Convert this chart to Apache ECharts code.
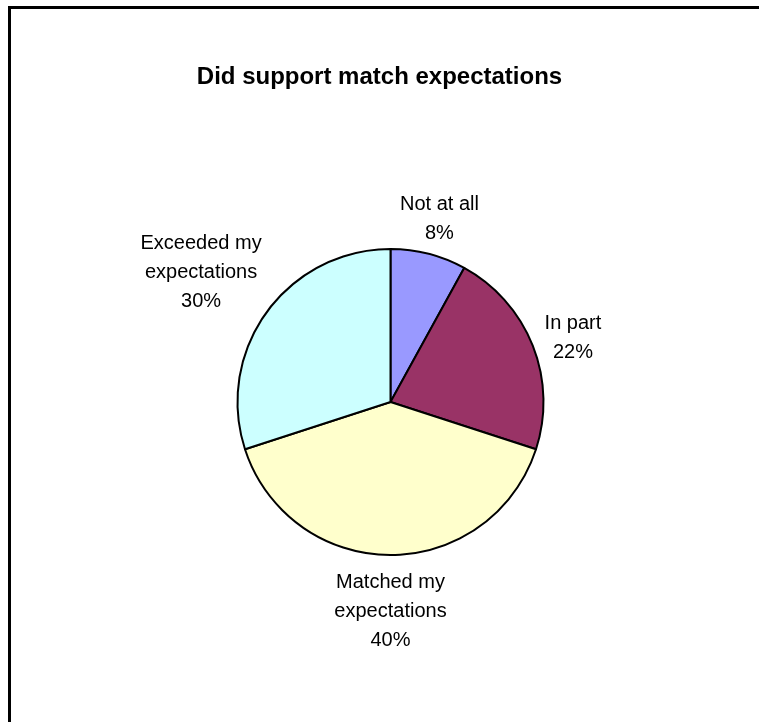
<!DOCTYPE html>
<html>
<head>
<meta charset="utf-8">
<script src="https://cdn.jsdelivr.net/npm/echarts@6/dist/echarts.min.js"></script>
<style>
  html, body { margin: 0; padding: 0; background: #ffffff; }
  #chart { width: 759px; height: 722px; }
</style>
</head>
<body>
<div id="chart"></div>
<script>
// Survey answers, clockwise from 12 o'clock
const categories = ['Not at all', 'In part', 'Matched my expectations', 'Exceeded my expectations'];
const shares = [8, 22, 40, 30];
const sliceColors = ['#9999FF', '#993366', '#FFFFCC', '#CCFFFF'];

const FONT = 'Liberation Sans, Arial, sans-serif';
const LABEL_SIZE = 20;
const WRAP_WIDTH = 130;
const PIE_CX = 390.5, PIE_CY = 402, PIE_R = 153;
const LABEL_GAP = 1;   // clearance between label box and circle
const LABEL_DROP = 8;  // text sits slightly low in its box

const total = shares.reduce((a, b) => a + b, 0);
// mid angle of each slice, measured clockwise from the top
const midAngles = shares.map((v, i) => {
  const before = shares.slice(0, i).reduce((a, b) => a + b, 0);
  return ((before + v / 2) / total) * 2 * Math.PI;
});

// word-wrap a label so each line stays within WRAP_WIDTH
const measureCtx = document.createElement('canvas').getContext('2d');
measureCtx.font = LABEL_SIZE + 'px ' + FONT;
function wrap(text) {
  const words = text.split(' ');
  const lines = [];
  let cur = '';
  words.forEach(w => {
    const trial = cur ? cur + ' ' + w : w;
    if (cur && measureCtx.measureText(trial).width > WRAP_WIDTH) {
      lines.push(cur);
      cur = w;
    } else {
      cur = trial;
    }
  });
  if (cur) lines.push(cur);
  return lines.join('\n');
}

const chart = echarts.init(document.getElementById('chart'), null, { renderer: 'canvas' });

chart.setOption({
  animation: false,
  backgroundColor: '#ffffff',
  textStyle: { fontFamily: FONT },
  title: {
    text: 'Did support match expectations',
    left: 'center',
    top: 60,
    textStyle: { fontFamily: FONT, fontSize: 24, fontWeight: 'bold', color: '#000000' }
  },
  graphic: [{
    type: 'rect',
    shape: { x: 9.5, y: 7.5, width: 800, height: 800 },
    style: { fill: 'none', stroke: '#000000', lineWidth: 3 },
    silent: true
  }],
  series: [{
    type: 'pie',
    center: [PIE_CX, PIE_CY],
    radius: PIE_R,
    startAngle: 90,
    clockwise: true,
    avoidLabelOverlap: false,
    data: categories.map((name, i) => ({
      name: name,
      value: shares[i],
      itemStyle: { color: sliceColors[i] }
    })),
    itemStyle: { borderColor: '#000000', borderWidth: 2 },
    label: {
      show: true,
      position: 'outside',
      formatter: p => wrap(p.name) + '\n' + Math.round(p.percent) + '%',
      fontFamily: FONT,
      fontSize: LABEL_SIZE,
      lineHeight: 29,
      padding: 4,
      color: '#000000',
      align: 'center'
    },
    labelLine: { show: false },
    emphasis: { disabled: true },
    labelLayout: function (params) {
      const a = midAngles[params.dataIndex];
      const s = Math.sin(a), c = Math.cos(a);
      const hw = params.labelRect.width / 2, hh = params.labelRect.height / 2;
      // push the label box outwards along the slice's mid angle until it clears the circle
      const d = PIE_R + LABEL_GAP + Math.abs(hw * s) + Math.abs(hh * c);
      return {
        x: PIE_CX + d * s,
        y: PIE_CY - d * c + LABEL_DROP,
        align: 'center',
        verticalAlign: 'middle'
      };
    }
  }]
});
</script>
</body>
</html>
